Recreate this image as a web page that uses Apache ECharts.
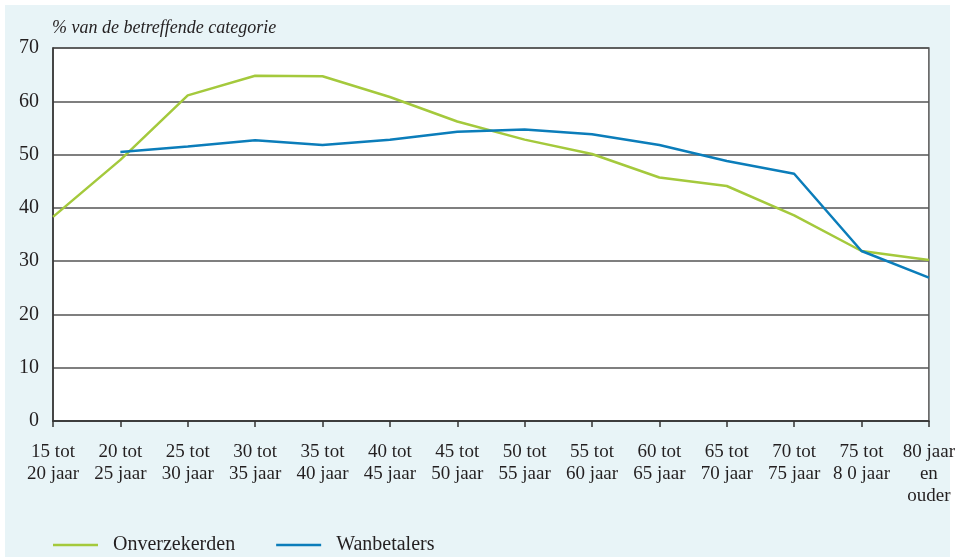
<!DOCTYPE html>
<html>
<head>
<meta charset="utf-8">
<script src="https://cdn.jsdelivr.net/npm/echarts@6/dist/echarts.min.js"></script>
<style>
  html, body { margin: 0; padding: 0; background: #fff; }
  #bg { position: absolute; left: 5px; top: 5px; width: 945px; height: 552px; background: #e8f4f7; }
  #main { position: absolute; left: 0; top: 0; width: 958px; height: 558px; }
</style>
</head>
<body>
<div id="bg"></div>
<div id="main"></div>
<script>
var categories = ['15 tot\n20 jaar', '20 tot\n25 jaar', '25 tot\n30 jaar', '30 tot\n35 jaar', '35 tot\n40 jaar',
  '40 tot\n45 jaar', '45 tot\n50 jaar', '50 tot\n55 jaar', '55 tot\n60 jaar', '60 tot\n65 jaar',
  '65 tot\n70 jaar', '70 tot\n75 jaar', '75 tot\n8 0 jaar', '80 jaar\nen\nouder'];
var onverzekerden = [38.3, 49.0, 61.1, 64.8, 64.7, 60.8, 56.2, 52.8, 50.1, 45.7, 44.1, 38.6, 31.9, 30.2];
var wanbetalers = [null, 50.5, 51.5, 52.7, 51.8, 52.8, 54.3, 54.7, 53.8, 51.8, 48.8, 46.4, 31.9, 26.9];

var font = '"Liberation Serif", "DejaVu Serif", serif';
var ink = '#231f20';
var green = '#a4c93c';
var blue = '#0b7dba';

var myChart = echarts.init(document.getElementById('main'));
var option = {
  backgroundColor: 'transparent',
  animation: false,
  textStyle: {fontFamily: font, color: ink},
  title: {
    text: '% van de betreffende categorie',
    left: 52, top: 19, padding: 0,
    textStyle: {fontFamily: font, fontStyle: 'italic', fontWeight: 'normal', fontSize: 18, color: ink}
  },
  legend: {
    left: 48, top: 530,
    itemWidth: 45, itemHeight: 2.5, itemGap: 41,
    icon: 'rect',
    textStyle: {fontFamily: font, fontSize: 20, color: ink, padding: [0, 0, 0, 10]},
    data: ['Onverzekerden', 'Wanbetalers']
  },
  grid: {
    left: 53, right: 28, top: 48, bottom: 137,
    show: true, backgroundColor: '#fff', borderColor: '#555', borderWidth: 1.5
  },
  xAxis: {
    type: 'category',
    data: categories,
    boundaryGap: false,
    axisLine: {lineStyle: {color: '#333', width: 1.5}},
    axisTick: {show: true, length: 6, lineStyle: {color: '#333', width: 1.5}},
    axisLabel: {fontFamily: font, fontSize: 19, color: ink, lineHeight: 22, margin: 20, interval: 0}
  },
  yAxis: {
    type: 'value',
    min: 0, max: 70, interval: 10,
    axisLine: {show: true, lineStyle: {color: '#333', width: 1.5}},
    axisTick: {show: false},
    splitLine: {lineStyle: {color: '#555', width: 1.5}},
    axisLabel: {fontFamily: font, fontSize: 20, color: ink, margin: 14, padding: [0, 0, 12, 0]}
  },
  series: [
    {name: 'Onverzekerden', type: 'line', data: onverzekerden, symbol: 'none',
     itemStyle: {color: green}, lineStyle: {color: green, width: 2.5}},
    {name: 'Wanbetalers', type: 'line', data: wanbetalers, symbol: 'none',
     itemStyle: {color: blue}, lineStyle: {color: blue, width: 2.5}}
  ]
};
myChart.setOption(option);
</script>
</body>
</html>
